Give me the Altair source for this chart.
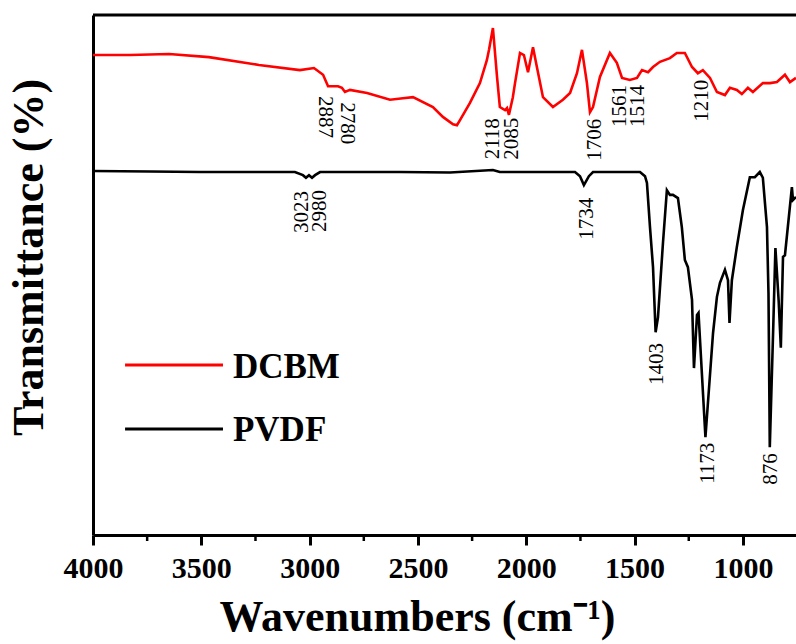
import altair as alt
import pandas as pd

# ---------------- data ----------------
dcbm_wn = [4000, 3829, 3649, 3465, 3234, 3045, 2980, 2938, 2915, 2869, 2851, 2837, 2814,
           2735, 2629, 2569, 2523, 2431, 2385, 2338, 2320, 2306, 2260, 2214, 2182, 2172,
           2154, 2135, 2122, 2098, 2089, 2080, 2062, 2052, 2029, 2011, 1992, 1969, 1951,
           1923, 1877, 1831, 1798, 1766, 1743, 1720, 1706, 1692, 1660, 1614, 1582, 1558,
           1522, 1489, 1466, 1438, 1415, 1383, 1337, 1305, 1268, 1235, 1208, 1185, 1152,
           1120, 1083, 1060, 1028, 1005, 977, 954, 908, 875, 843, 806, 783, 755]
dcbm_t = [92.3, 92.3, 92.5, 91.9, 90.4, 89.4, 89.8, 88.5, 86.3, 86.3, 86.0, 85.2, 85.6,
          85.0, 83.7, 84.0, 84.2, 82.3, 80.4, 79.0, 78.8, 79.8, 83.1, 86.9, 91.3, 93.3,
          97.5, 88.1, 82.3, 81.7, 82.1, 80.8, 84.2, 86.9, 92.7, 92.3, 89.0, 93.8, 90.0,
          84.2, 82.3, 83.7, 85.0, 88.8, 93.3, 86.9, 81.3, 82.3, 88.1, 92.7, 90.8, 87.9,
          87.5, 87.9, 89.4, 89.0, 90.0, 91.0, 91.7, 92.7, 92.7, 90.0, 88.8, 89.4, 87.9,
          85.2, 84.6, 86.0, 85.6, 84.8, 86.0, 85.2, 86.9, 86.9, 87.1, 88.5, 87.1, 87.9]

pvdf_wn = [4000, 3737, 3506, 3229, 3068, 3031, 3017, 3003, 2989, 2975, 2952, 2583, 2352,
           2154, 2122, 1937, 1775, 1752, 1734, 1711, 1692, 1475, 1452, 1443, 1429, 1415,
           1403, 1392, 1369, 1351, 1337, 1323, 1300, 1282, 1268, 1254, 1235, 1226, 1212,
           1205, 1173, 1138, 1120, 1106, 1083, 1069, 1062, 1051, 1028, 1000, 968, 945,
           922, 908, 889, 882, 876, 860, 850, 835, 825, 815, 806, 774, 769, 755]
pvdf_t = [70.0, 69.9, 69.8, 69.8, 69.8, 69.2, 68.7, 69.2, 68.7, 69.2, 69.8, 69.8, 69.7,
          70.2, 69.8, 69.8, 69.8, 69.0, 67.3, 69.0, 69.8, 69.8, 69.0, 67.7, 59.2, 51.5,
          39.0, 41.9, 56.2, 66.3, 65.4, 65.4, 64.8, 59.2, 52.9, 51.5, 45.2, 32.1, 42.3,
          42.7, 18.8, 38.8, 45.8, 48.5, 51.0, 49.0, 40.8, 49.0, 55.4, 62.5, 68.8, 68.8,
          69.8, 68.7, 59.2, 46.5, 16.9, 40.0, 55.2, 45.0, 36.0, 53.5, 53.8, 66.9, 64.4, 65.0]

series_names = ["DCBM", "PVDF"]
series_colors = ["#ff0000", "#000000"]

# peak annotations: label, x position (wavenumber), y position (transmittance), rotation
ann_labels = ["2887", "2780", "2118", "2085", "1706", "1561", "1514", "1210",
              "3023", "2980", "1734", "1403", "1173", "876"]
ann_wn = [2929, 2828, 2154, 2066, 1683, 1568, 1485, 1189,
          3035, 2952, 1720, 1397, 1162, 871]
ann_t = [80.4, 79.2, 76.2, 76.2, 76.0, 82.5, 82.5, 83.5,
         62.1, 62.3, 60.8, 32.9, 13.8, 12.7]
ann_angle = [90, 90, 270, 270, 270, 270, 270, 270,
             270, 270, 270, 270, 270, 270]

x_major = [4000, 3500, 3000, 2500, 2000, 1500, 1000]
x_minor = [3750, 3250, 2750, 2250, 1750, 1250]

# legend entries (in data units)
leg_x1 = [3852, 3852]
leg_x2 = [3400, 3400]
leg_xt = [3354, 3354]
leg_y = [32.7, 20.4]
leg_yt = [32.3, 20.2]

# ---------------- build tables ----------------
df = pd.concat([
    pd.DataFrame({"wn": dcbm_wn, "t": dcbm_t, "series": "DCBM"}),
    pd.DataFrame({"wn": pvdf_wn, "t": pvdf_t, "series": "PVDF"}),
], ignore_index=True)
ann = pd.DataFrame({"label": ann_labels, "wn": ann_wn, "t": ann_t, "angle": ann_angle})
minor = pd.DataFrame({"wn": x_minor})
leg = pd.DataFrame({"series": series_names, "x1": leg_x1, "x2": leg_x2,
                    "xt": leg_xt, "y": leg_y, "yt": leg_yt})

W, H = 703, 520
FONT = "Liberation Serif"
x_scale = alt.Scale(domain=[4000, 755], nice=False, zero=False)
y_scale = alt.Scale(domain=[0, 100], nice=False, zero=False)
color_scale = alt.Scale(domain=series_names, range=series_colors)

x_axis = alt.Axis(
    values=x_major, title="Wavenumbers (cm⁻¹)", format="d",
    domainWidth=3, domainColor="black", tickColor="black", tickWidth=3, tickSize=10,
    labelFont=FONT, labelFontSize=30, labelFontWeight="bold", labelColor="black",
    labelPadding=8, labelFlush=False, labelOverlap=False, grid=False,
    titleFont=FONT, titleFontSize=44, titleFontWeight="bold", titleColor="black",
    titleX=324, titleY=95, titleBaseline="alphabetic", titleAlign="center")
y_axis = alt.Axis(
    title="Transmittance (%)", labels=False, ticks=False, grid=False,
    domainWidth=3, domainColor="black",
    titleFont=FONT, titleFontSize=44, titleFontWeight="bold", titleColor="black",
    titleAngle=270, titleX=-51, titleY=242, titleBaseline="alphabetic",
    titleAlign="center")


def X(field):
    return alt.X(field, type="quantitative", scale=x_scale, axis=x_axis)


def Y(field):
    return alt.Y(field, type="quantitative", scale=y_scale, axis=y_axis)


lines = alt.Chart(df).mark_line(strokeWidth=2.6, clip=True).encode(
    x=X("wn"),
    y=Y("t"),
    color=alt.Color("series:N", scale=color_scale, legend=None),
    detail="series:N",
)

minor_ticks = alt.Chart(minor).mark_rule(strokeWidth=2.5, color="black").encode(
    x=X("wn"),
    y=alt.value(H),
    y2=alt.value(H + 6),
)

top_border = alt.Chart(pd.DataFrame({"a": [0]})).mark_rule(strokeWidth=3, color="black").encode(
    x=alt.value(0), x2=alt.value(W), y=alt.value(0)
)

ann_down = alt.Chart(ann[ann["angle"] == 270]).mark_text(
    angle=270, font=FONT, fontSize=21, color="black", align="center", baseline="middle"
).encode(x=X("wn"), y=Y("t"), text="label:N")

ann_up = alt.Chart(ann[ann["angle"] == 90]).mark_text(
    angle=90, font=FONT, fontSize=21, color="black", align="center", baseline="middle"
).encode(x=X("wn"), y=Y("t"), text="label:N")

leg_lines = alt.Chart(leg).mark_rule(strokeWidth=3).encode(
    x=X("x1"),
    x2="x2:Q",
    y=Y("y"),
    color=alt.Color("series:N", scale=color_scale, legend=None),
)
leg_text = alt.Chart(leg).mark_text(
    font=FONT, fontSize=35, fontWeight="bold", color="black", align="left", baseline="middle"
).encode(x=X("xt"), y=Y("yt"), text="series:N")

chart = alt.layer(
    lines, minor_ticks, top_border, ann_down, ann_up, leg_lines, leg_text
).properties(
    width=W, height=H,
    autosize=alt.AutoSizeParams(type="none"),
    padding={"left": 93, "top": 15, "right": 0, "bottom": 109},
    background="white",
).configure_view(stroke=None).configure_axis(
    labelFont=FONT, titleFont=FONT
).configure_text(font=FONT)

chart.save("out.html", embed_options={"renderer": "svg", "actions": False})
